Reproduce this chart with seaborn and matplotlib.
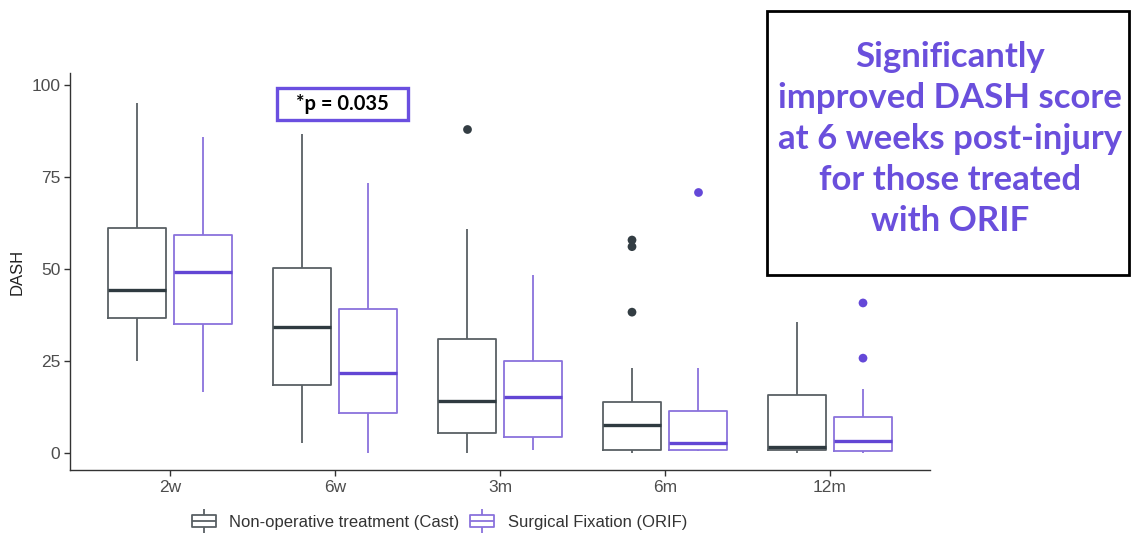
import numpy as np
import pandas as pd
import matplotlib
matplotlib.use("Agg")
import matplotlib.pyplot as plt
import seaborn as sns
from matplotlib.path import Path
from matplotlib.lines import Line2D
from matplotlib.patches import Rectangle

# ---------------- data ----------------
timepoints = ["2w", "6w", "3m", "6m", "12m"]
groups = ["Non-operative treatment (Cast)", "Surgical Fixation (ORIF)"]

cast_low = [25.0, 2.7, 0.0, 0.0, 0.0]
cast_q1 = [36.7, 18.5, 5.4, 0.8, 0.8]
cast_med = [44.3, 34.2, 14.1, 7.6, 1.6]
cast_q3 = [61.1, 50.3, 31.0, 14.0, 15.8]
cast_high = [95.1, 86.7, 60.9, 23.1, 35.6]

orif_low = [16.6, 0.0, 0.8, 0.5, 0.0]
orif_q1 = [35.0, 10.8, 4.4, 0.8, 0.5]
orif_med = [49.2, 21.7, 15.2, 2.8, 3.3]
orif_q3 = [59.2, 39.1, 25.0, 11.4, 9.8]
orif_high = [85.9, 73.4, 48.4, 23.1, 17.4]

cast_out_time = ["3m", "6m", "6m", "6m"]
cast_out_vals = [88.0, 57.9, 56.1, 38.3]
orif_out_time = ["6m", "12m", "12m"]
orif_out_vals = [71.0, 40.8, 25.8]

# ---------------- long-form tables ----------------
rows = []
for i, tp in enumerate(timepoints):
    for g, arrs in zip(groups, [(cast_low, cast_q1, cast_med, cast_q3, cast_high),
                                (orif_low, orif_q1, orif_med, orif_q3, orif_high)]):
        for a in arrs:
            rows.append({"time": tp, "group": g, "DASH": a[i]})
df = pd.DataFrame(rows)

out_rows = [{"time": t, "group": groups[0], "DASH": v} for t, v in zip(cast_out_time, cast_out_vals)]
out_rows += [{"time": t, "group": groups[1], "DASH": v} for t, v in zip(orif_out_time, orif_out_vals)]
out_df = pd.DataFrame(out_rows)

# ---------------- style ----------------
sns.set_theme(style="ticks")
plt.rcParams['font.family'] = ['Liberation Sans', 'DejaVu Sans']

W, H = 1131, 533
fig = plt.figure(figsize=(W / 100, H / 100), dpi=100)
ax = fig.add_axes([70 / W, 63 / H, 860 / W, (470 - 73) / H])

line_col = {groups[0]: "#596064", groups[1]: "#8a72dc"}
med_col = {groups[0]: "#2f3a40", groups[1]: "#6246d4"}
dot_col = {groups[0]: "#333d43", groups[1]: "#6448d8"}

sns.boxplot(data=df, x="time", y="DASH", hue="group", order=timepoints, hue_order=groups,
            palette=line_col, fill=False, width=0.8, gap=0.12, whis=(0, 100),
            showcaps=False, showfliers=False, linewidth=1.3, legend=False, ax=ax)

for cont in ax.containers:
    try:
        med = cont.medians[0]
    except Exception:
        continue
    xc = np.mean(med.get_xdata())
    g = groups[0] if (xc - round(xc)) < 0 else groups[1]
    for m in cont.medians:
        m.set_color(med_col[g])
        m.set_linewidth(2.4)

sns.stripplot(data=out_df, x="time", y="DASH", hue="group", order=timepoints, hue_order=groups,
              dodge=True, jitter=False, palette=dot_col, size=6.3, linewidth=0,
              legend=False, ax=ax)

ax.set_xlim(-0.606, 4.606)
ax.set_ylim(-4.6, 103.3)
ax.set_yticks([0, 25, 50, 75, 100])
ax.set_xlabel("")
ax.set_ylabel("DASH", fontsize=12, color="#222222", labelpad=5)
sns.despine(ax=ax)
for s in ["left", "bottom"]:
    ax.spines[s].set_color("#333333")
    ax.spines[s].set_linewidth(1.0)
ax.tick_params(axis="both", length=4, width=1, color="#333333", labelcolor="#4d4d4d",
               labelsize=12.5, pad=3)

# ---------------- legend ----------------
verts = [(-1, -0.55), (1, -0.55), (1, 0.55), (-1, 0.55), (-1, -0.55),
         (-1, 0), (1, 0), (0, 0.55), (0, 1), (0, -0.55), (0, -1)]
codes = [Path.MOVETO, Path.LINETO, Path.LINETO, Path.LINETO, Path.CLOSEPOLY,
         Path.MOVETO, Path.LINETO, Path.MOVETO, Path.LINETO, Path.MOVETO, Path.LINETO]
glyph = Path(verts, codes)
handles = [Line2D([], [], linestyle="", marker=glyph, markersize=17, markeredgewidth=1.3,
                  markerfacecolor="white", markeredgecolor=line_col[g]) for g in groups]
fig.legend(handles, groups, loc="center", bbox_to_anchor=(440 / W, 1 - 522 / H), ncol=2,
           frameon=False, fontsize=12, handlelength=1.3, handletextpad=0.9,
           columnspacing=0.7, labelcolor="#333333")

# ---------------- annotations ----------------
def fig_rect(x0, y0, x1, y1, **kw):
    r = Rectangle((x0 / W, 1 - y1 / H), (x1 - x0) / W, (y1 - y0) / H,
                  transform=fig.transFigure, fill=False, **kw)
    fig.add_artist(r)

fig_rect(277, 88, 408, 120, edgecolor="#6a4fe0", linewidth=2.4)
fig.text(342.5 / W, 1 - 104 / H, "*p = 0.035", ha="center", va="center", fontsize=14.5,
         fontweight="bold", color="black", family=["Lato", "DejaVu Sans"])

fig_rect(767, 11, 1129, 275, edgecolor="black", linewidth=2.0)
fig.text(950 / W, 1 - 139 / H,
         "Significantly\nimproved DASH score\nat 6 weeks post-injury\nfor those treated\nwith ORIF",
         ha="center", va="center", fontsize=25, fontweight="bold", color="#6a4fdc",
         linespacing=1.34, family=["Lato", "DejaVu Sans"])

fig.savefig("out.png", dpi=100)
